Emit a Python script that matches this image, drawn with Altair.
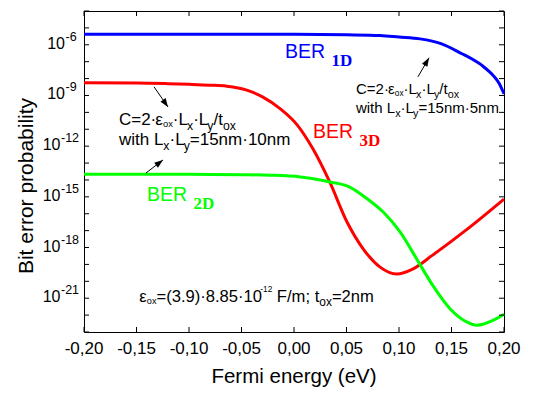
import math
import altair as alt
import pandas as pd

SANS = "Liberation Sans, Arial, Helvetica, sans-serif"
SERIF = "Liberation Serif, Times New Roman, serif"

# ---------------- data ----------------
x_tick_values = [-0.20, -0.15, -0.10, -0.05, 0.00, 0.05, 0.10, 0.15, 0.20]
x_tick_labels = ["-0,20", "-0,15", "-0,10", "-0,05", "0,00", "0,05", "0,10", "0,15", "0,20"]
y_decades = list(range(-23, -3))            # tick at every decade
y_label_exponents = [-21, -18, -15, -12, -9, -6]
x_title = "Fermi energy (eV)"
y_title = "Bit error probability"

ber1d_x = [-0.20, -0.10, 0.00, 0.05, 0.082, 0.10, 0.12, 0.14, 0.16, 0.17, 0.18, 0.19, 0.195, 0.20]
ber1d_log = [-5.37, -5.37, -5.38, -5.41, -5.45, -5.54, -5.65, -5.93, -6.53, -6.86, -7.27, -7.84, -8.25, -8.90]

ber3d_x = [-0.20, -0.15, -0.12, -0.10, -0.08, -0.064, -0.045, -0.03, -0.013, 0.003, 0.018,
           0.034, 0.0505, 0.066, 0.082, 0.098, 0.113, 0.132, 0.165, 0.20]
ber3d_log = [-8.25, -8.26, -8.30, -8.34, -8.39, -8.45, -8.68, -9.08, -9.79, -10.74, -12.16,
             -14.12, -16.49, -18.09, -19.16, -19.57, -19.28, -18.45, -16.91, -15.13]

ber2d_x = [-0.20, -0.15, -0.10, -0.05, -0.023, 0.006, 0.025, 0.034, 0.053, 0.070, 0.085,
           0.101, 0.117, 0.132, 0.149, 0.165, 0.174, 0.190, 0.20]
ber2d_log = [-13.66, -13.66, -13.66, -13.69, -13.72, -13.82, -14.00, -14.12, -14.42, -15.13, -15.90,
             -17.08, -18.69, -20.23, -21.65, -22.42, -22.60, -22.30, -21.95]

series_names = ["BER1D", "BER3D", "BER2D"]
series_colors = ["#0000ff", "#ff0000", "#00ff00"]

# arrows: tail -> tip (x in eV, y as log10)
arrow_tail_x = [-0.1333, 0.118, -0.141]
arrow_tail_log = [-8.49, -7.90, -13.59]
arrow_tip_x = [-0.120, 0.1286, -0.1248]
arrow_tip_log = [-9.68, -6.77, -12.82]

# ---------------- scales ----------------
PLOT_W, PLOT_H = 420, 321
TICK_LEN = 5
X_DOMAIN = [-0.20, 0.20]
Y_EXP = [-23, -4]
xs = alt.Scale(domain=X_DOMAIN, nice=False, zero=False)
ys = alt.Scale(type="log", domain=[float(f"1e{Y_EXP[0]}"), float(f"1e{Y_EXP[1]}")], nice=False)
PX_PER_X = PLOT_W / (X_DOMAIN[1] - X_DOMAIN[0])
PX_PER_DEC = PLOT_H / (Y_EXP[1] - Y_EXP[0])


def X(field="x"):
    return alt.X(f"{field}:Q", scale=xs, axis=None)


def Y(field="y"):
    return alt.Y(f"{field}:Q", scale=ys, axis=None)


rows = []
for name, sx, sl in zip(series_names, [ber1d_x, ber3d_x, ber2d_x], [ber1d_log, ber3d_log, ber2d_log]):
    for xv, lv in zip(sx, sl):
        rows.append({"series": name, "x": xv, "y": 10.0 ** lv})
curves = pd.DataFrame(rows)

tick_vals_y = [float(f"1e{d}") for d in y_decades]

lines = alt.Chart(curves).mark_line(strokeWidth=3, interpolate="monotone").encode(
    x=X(), y=Y(),
    color=alt.Color("series:N", scale=alt.Scale(domain=series_names, range=series_colors), legend=None),
    detail="series:N",
)

# ---------------- inward ticks on all four sides (drawn in data coordinates) ----------------
dx_tick = TICK_LEN / PX_PER_X
ddec_tick = TICK_LEN / PX_PER_DEC
x_lo, x_hi = X_DOMAIN
y_lo, y_hi = float(f"1e{Y_EXP[0]}"), float(f"1e{Y_EXP[1]}")
ticks_bottom = pd.DataFrame({"x": x_tick_values, "y": [y_lo] * len(x_tick_values),
                             "y2": [10.0 ** (Y_EXP[0] + ddec_tick)] * len(x_tick_values)})
ticks_top = pd.DataFrame({"x": x_tick_values, "y": [y_hi] * len(x_tick_values),
                          "y2": [10.0 ** (Y_EXP[1] - ddec_tick)] * len(x_tick_values)})
ticks_left = pd.DataFrame({"y": tick_vals_y, "x": [x_lo] * len(tick_vals_y),
                           "x2": [x_lo + dx_tick] * len(tick_vals_y)})
ticks_right = pd.DataFrame({"y": tick_vals_y, "x": [x_hi] * len(tick_vals_y),
                            "x2": [x_hi - dx_tick] * len(tick_vals_y)})
tick_layers = [
    alt.Chart(ticks_bottom).mark_rule(color="black", strokeWidth=1).encode(x=X(), y=Y(), y2="y2:Q"),
    alt.Chart(ticks_top).mark_rule(color="black", strokeWidth=1).encode(x=X(), y=Y(), y2="y2:Q"),
    alt.Chart(ticks_left).mark_rule(color="black", strokeWidth=1).encode(x=X(), x2="x2:Q", y=Y()),
    alt.Chart(ticks_right).mark_rule(color="black", strokeWidth=1).encode(x=X(), x2="x2:Q", y=Y()),
]

# ---------------- x tick labels and axis titles ----------------
xlab = pd.DataFrame({"x": x_tick_values, "label": x_tick_labels})
xlab_layer = alt.Chart(xlab).mark_text(align="center", baseline="top", font=SANS, fontSize=17,
                                       color="black").encode(
    x=X(), y=alt.value(PLOT_H + 9), text="label:N")

x_mid = (X_DOMAIN[0] + X_DOMAIN[1]) / 2
y_mid_px = 175
titles = pd.DataFrame({"x": [x_mid], "t": [x_title]})
x_title_layer = alt.Chart(titles).mark_text(align="center", baseline="alphabetic", font=SANS,
                                            fontSize=20.5, color="black").encode(
    x=X(), y=alt.value(PLOT_H + 50.5), text="t:N")
ytitles = pd.DataFrame({"y": [10.0 ** (Y_EXP[1] - y_mid_px / PX_PER_DEC)], "t": [y_title]})
y_title_layer = alt.Chart(ytitles).mark_text(align="center", baseline="bottom", font=SANS, fontSize=21,
                                             angle=270, color="black").encode(
    x=alt.value(-47), y=Y(), text="t:N")

# ---------------- y tick labels 10^n ----------------
ylab = pd.DataFrame({"y": [float(f"1e{e}") for e in y_label_exponents],
                     "exp": [f"-{abs(e)}" for e in y_label_exponents],
                     "nd": [len(str(abs(e))) for e in y_label_exponents]})
ylab_layers = []
for nd, xr in [(1, -19.0), (2, -23.5)]:
    base = alt.Chart(ylab).transform_filter(alt.datum.nd == nd)
    ylab_layers.append(base.mark_text(text="10", align="right", baseline="alphabetic", font=SANS,
                                      fontSize=16, color="black", dy=4).encode(
        x=alt.value(xr), y=Y()))
    ylab_layers.append(base.mark_text(align="left", baseline="alphabetic", font=SANS,
                                      fontSize=12.5, color="black", dy=-4).encode(
        x=alt.value(xr + 0.5), y=Y(), text="exp:N"))

# ---------------- arrows ----------------
angles = []
for x1, l1, x2, l2 in zip(arrow_tail_x, arrow_tail_log, arrow_tip_x, arrow_tip_log):
    dxp = (x2 - x1) * PX_PER_X
    dyp = -(l2 - l1) * PX_PER_DEC
    angles.append(math.degrees(math.atan2(dxp, -dyp)))
arrows = pd.DataFrame({"x1": arrow_tail_x, "y1": [10.0 ** v for v in arrow_tail_log],
                       "x2": arrow_tip_x, "y2": [10.0 ** v for v in arrow_tip_log], "ang": angles})
arrow_rule = alt.Chart(arrows).mark_rule(color="black", strokeWidth=1).encode(
    x=X("x1"), y=Y("y1"), x2="x2:Q", y2="y2:Q")
arrow_head = alt.Chart(arrows).mark_point(shape="M0,0L-0.36,1L0.36,1Z", filled=True, color="black",
                                          opacity=1, size=300, strokeWidth=0).encode(
    x=X("x2"), y=Y("y2"), angle=alt.Angle("ang:Q", scale=None))

# ---------------- rich text annotations ----------------
AW = {' ': .278, '(': .333, ')': .333, '-': .333, '.': .278, '/': .278, ';': .278, '=': .584,
      '·': .278, 'B': .667, 'C': .722, 'D': .722, 'E': .667, 'F': .611, 'L': .556, 'R': .722,
      'h': .556, 'i': .222, 'm': .833, 'n': .556, 'o': .556, 't': .278, 'w': .722, 'x': .5,
      'y': .5, 'ε': .45}
KIND = {"n": (1.0, 0.0), "sub": (0.72, 0.27), "tiny": (0.55, 0.12), "sup": (0.5, -0.58)}


def text_w(s, size):
    return sum(AW.get(ch, .556) for ch in s) * size


def rich(xv, logy, parts, base, color="black"):
    df = pd.DataFrame({"x": [xv], "y": [10.0 ** logy]})
    out = []
    cx = 0.0
    for txt, kind in parts:
        sc, sh = KIND[kind]
        size = base * sc
        lead = len(txt) - len(txt.lstrip(" "))
        cx += text_w(" " * lead, size)
        body = txt.lstrip(" ")
        out.append(alt.Chart(df).mark_text(text=body, align="left", baseline="alphabetic", font=SANS,
                                           fontSize=size, color=color, dx=cx, dy=sh * base).encode(
            x=X(), y=Y()))
        cx += text_w(body, size)
    return out


def ber_label(xv, logy, sub, color):
    df = pd.DataFrame({"x": [xv], "y": [10.0 ** logy]})
    return [
        alt.Chart(df).mark_text(text="BER", align="left", baseline="alphabetic", font=SANS,
                                fontSize=19.5, color=color).encode(x=X(), y=Y()),
        alt.Chart(df).mark_text(text=sub, align="left", baseline="alphabetic", font=SERIF,
                                fontWeight="bold", fontSize=17, color=color, dx=46.5, dy=8).encode(
            x=X(), y=Y()),
    ]


cap_parts = [("C=2·", "n"), ("ε", "n"), ("ox", "tiny"), ("·L", "n"), ("x", "sub"), ("·L", "n"),
             ("y", "sub"), ("/t", "n"), ("ox", "sub")]
left_l2 = [("with L", "n"), ("x", "sub"), ("·L", "n"), ("y", "sub"), ("=15nm·10nm", "n")]
right_l2 = [("with L", "n"), ("x", "sub"), ("·L", "n"), ("y", "sub"), ("=15nm·5nm", "n")]
bottom_parts = [("ε", "n"), ("ox", "tiny"), ("=(3.9)·8.85·10", "n"), ("-12", "sup"), (" F/m; t", "n"),
                ("ox", "sub"), ("=2nm", "n")]

text_layers = []
text_layers += rich(-0.1667, -10.77, cap_parts, 17)
text_layers += rich(-0.1667, -11.945, left_l2, 17)
text_layers += rich(0.059, -8.905, cap_parts, 15)
text_layers += rich(0.059, -10.03, right_l2, 15)
text_layers += rich(-0.1473, -21.2, bottom_parts, 16.6)
text_layers += ber_label(-0.0086, -6.81, "1D", "#0000ff")
text_layers += ber_label(0.0181, -11.51, "3D", "#ff0000")
text_layers += ber_label(-0.140, -15.265, "2D", "#00ff00")

chart = alt.layer(lines, *tick_layers, xlab_layer, x_title_layer, y_title_layer, *ylab_layers,
                  arrow_rule, arrow_head, *text_layers).properties(
    width=PLOT_W, height=PLOT_H,
    autosize=alt.AutoSizeParams(type="none"),
    padding={"left": 76, "top": 3, "right": 20, "bottom": 56},
).configure_view(stroke="black", strokeWidth=1)

chart.save("out.html", embed_options={"renderer": "svg", "actions": False})
